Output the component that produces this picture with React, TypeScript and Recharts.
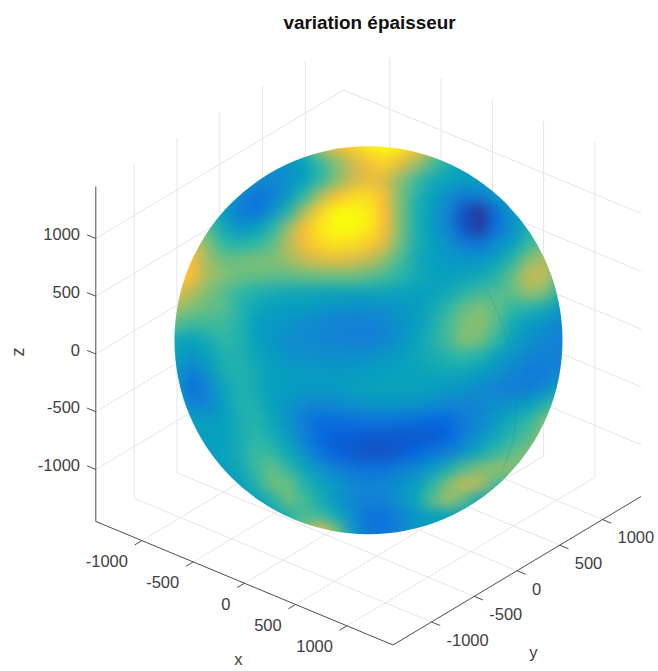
import React from 'react';
import { ScatterChart, Scatter, XAxis, YAxis } from 'recharts';

const W = 658;
const H = 671;
const titleText = 'variation épaisseur';
const xTicks = [-1000, -500, 0, 500, 1000];
const yTicks = [-1000, -500, 0, 500, 1000];
const zTicks = [-1000, -500, 0, 500, 1000];
const LIM = 1450;
const TICK_LEN = 85;
const seamLatitudes = [-25, -18, -10, 0, 10, 20, 28, 38];

// thickness variation on the visible face of the sphere, rows top to bottom
const field = [
  [3,3,3,3,3,3,3,3,4,5.5,6.6,7.2,7.7,8,7.7,7,5.5,4,3.5,3,3,3,3,3,3],
  [3,3,3,3,3,3,2.5,2.5,3,4,5,6,6.9,7.3,6.6,5.5,4.4,3.6,3,3,3,3,3,3,3],
  [3,3,3,3,3,2.4,2.1,2.5,3,4,5,6.1,6.6,6.4,5.2,4.2,3.4,3.1,3,3,3,3,3,3,3],
  [3,3,3,3,2.2,1.5,1.9,2.8,4,5.7,7,7.4,7.5,6.9,5,3.8,3,2.4,1.8,1.9,2.8,3,3,3,3],
  [3.5,3.5,3.5,3,1.8,1.6,2.6,3.8,5.7,7.3,8,8,7.8,7,5,3.6,2.9,2.1,0.6,0.2,1.4,2.7,3.2,3.5,3.5],
  [5,5,4.5,3.3,2.6,3,3.8,5.4,7,7.7,8,8,7.8,7,5,3.6,2.9,2.1,0.7,0.3,1.4,2.5,3.5,4,4],
  [6.8,6.8,5,4,3.8,4,4.6,5.8,6.9,7.4,7.6,7.5,7.2,6.5,4.8,3.6,3,2.6,1.9,1.7,2.4,3,4,4.9,5],
  [7.2,6.8,5.5,4.8,4.8,5,5,5.5,6,6.4,6.6,6.4,6,5.2,4.3,3.4,3,2.8,2.7,2.7,3.1,3.9,5.1,5.7,5],
  [7.2,7,5.5,5.1,4.8,4.7,4.6,4.6,4.7,4.8,4.8,4.8,4.6,4.3,3.9,3.4,3.1,3,3.1,3.3,3.8,4.7,6,6.1,4.5],
  [6.5,5.8,5,4.5,4,3.7,3.5,3.3,3.3,3.2,3.2,3.2,3.2,3.2,3.1,3,3.1,3.3,3.8,4.2,4.4,4.7,5.4,5.1,3.8],
  [5.5,5,4.7,4.5,3.8,3.2,3,2.9,2.9,2.7,2.5,2.4,2.4,2.5,2.7,2.9,3.3,4,4.7,5,4.7,4,3.8,3.4,2.8],
  [4.5,4.2,4.2,4.2,3.7,3,2.8,2.6,2.3,2.2,2.1,2,2,2.2,2.5,2.9,3.5,4.3,5,5.2,4.5,3.4,2.8,2.5,2.2],
  [3.3,3,3.5,4,3.7,3,2.7,2.4,2.3,2.2,2.1,2,2,2.2,2.6,3.1,3.7,4.3,5.1,4.9,4,3.1,2.6,2.2,2],
  [3,2.7,3,3.7,3.7,3.2,2.9,2.6,2.5,2.5,2.4,2.4,2.5,2.7,2.9,3.2,3.5,3.8,4,3.7,3.1,2.6,2.2,2,2],
  [2.8,1.8,2.7,3.5,3.7,3.4,3,2.9,2.8,2.8,2.8,2.8,2.9,3,3.1,3.1,3.2,3.3,3.2,2.9,2.6,2.2,1.8,1.8,2.2],
  [2.8,1.4,2.1,3.2,3.7,3.4,3,2.9,2.8,2.8,2.8,3,3.1,3.1,3.1,3.1,3,2.8,2.6,2.3,2.1,1.9,1.9,2.2,3],
  [3,2,2.2,3,3.7,3.6,3,2.7,2.3,2.2,2.3,2.5,2.7,2.7,2.7,2.6,2.4,2.2,2.1,2.2,2.4,2.6,2.9,3.6,4.5],
  [3,3,2.8,3,3.5,3.8,3.2,2.6,1.8,1.3,1.4,1.5,1.6,1.6,1.5,1.4,1.2,1.2,1.8,2.2,2.8,3.4,3.9,4.8,5.5],
  [3,3,3,3,3.5,3.9,3.5,2.9,2,1.1,0.9,0.9,0.8,0.8,0.8,0.8,0.8,1,1.9,2.6,3.3,3.9,4.4,5.5,5.5],
  [3,3,3,3.1,3.5,4.2,4,3.2,2.5,1.5,0.9,0.8,0.7,0.7,0.8,1,1.5,1.9,2.6,3.3,4,4.6,5,5,5],
  [3,3,3,3,3.3,4.2,4.7,4,3.2,2.6,2,1.6,1.4,1.5,1.8,2.2,2.8,3.5,4.4,5,5.3,5.2,5,5,5],
  [3,3,3,3,3,3.8,4.8,4.8,3.8,3.2,2.7,2.3,2.1,2.2,2.5,3,3.8,5,6.1,5.8,4.4,4,4,4,4],
  [3,3,3,3,3,3,3.7,4.8,4.3,3.4,2.8,2.2,2,2.1,2.6,3.2,4.6,5.5,4.5,3.2,3,3,3,3,3],
  [3,3,3,3,3,3,3,3.7,4.4,4.2,3.4,2.4,1.6,1.5,2,2.7,3,3,3,3,3,3,3,3,3],
  [3,3,3,3,3,3,3,4,5,7,5,2.8,1.7,1.5,2.2,2.8,3,3,3,3,3,3,3,3,3],
];

const parula = [
  [53, 42, 135], [3, 102, 225], [20, 128, 214], [6, 160, 190], [45, 184, 165],
  [125, 191, 118], [196, 186, 85], [253, 188, 55], [249, 251, 14],
];

const colorOf = (v: number) => {
  const i = Math.min(7, Math.floor(v));
  const f = v - i;
  const c = parula[i].map((a, k) => Math.round(a + (parula[i + 1][k] - a) * f));
  return `rgb(${c[0]},${c[1]},${c[2]})`;
};

// orthographic view of the 3D axes on the page
const project = (x: number, y: number, z: number) => ({
  px: 368.4 + 0.1025 * x + 0.0855 * y,
  py: 341.5 + 0.0426 * x - 0.0512 * y - 0.1155 * z,
});

const seg = (a: number[], b: number[]) => [project(a[0], a[1], a[2]), project(b[0], b[1], b[2])];

const gridSegs = [
  ...xTicks.map((t) => seg([t, -LIM, -LIM], [t, LIM, -LIM])),
  ...yTicks.map((t) => seg([-LIM, t, -LIM], [LIM, t, -LIM])),
  ...yTicks.map((t) => seg([-LIM, t, -LIM], [-LIM, t, LIM])),
  ...xTicks.map((t) => seg([t, LIM, -LIM], [t, LIM, LIM])),
  ...zTicks.map((t) => seg([-LIM, -LIM, t], [-LIM, LIM, t])),
  ...zTicks.map((t) => seg([-LIM, LIM, t], [LIM, LIM, t])),
];

const axisSegs = [
  seg([-LIM, -LIM, -LIM], [-LIM, -LIM, LIM]),
  seg([-LIM, -LIM, -LIM], [LIM, -LIM, -LIM]),
  seg([LIM, -LIM, -LIM], [LIM, LIM, -LIM]),
  ...xTicks.map((t) => seg([t, -LIM, -LIM], [t, -LIM - TICK_LEN, -LIM])),
  ...yTicks.map((t) => seg([LIM, t, -LIM], [LIM + TICK_LEN, t, -LIM])),
  ...zTicks.map((t) => seg([-LIM, -LIM, t], [-LIM - TICK_LEN, -LIM, t])),
];

const CELL = 16;
const cells = field.flatMap((row, r) =>
  row.map((v, c) => ({ px: 176 + c * CELL, py: 148 + r * CELL, v, r, c })),
);

const seam = seamLatitudes.map((d) => {
  const a = (d * Math.PI) / 180;
  return project(LIM * Math.cos(a), 0, LIM * Math.sin(a));
});

const FONT = '"Liberation Sans", Arial, sans-serif';
const TEXT = '#404040';

const labels = [
  ...xTicks.map((t) => {
    const p = project(t, -LIM, -LIM);
    return { px: p.px - 14, py: p.py + 20.5, text: String(t), anchor: 'end' };
  }),
  ...yTicks.map((t) => {
    const p = project(LIM, t, -LIM);
    return { px: p.px + 15, py: p.py + 18, text: String(t), anchor: 'start' };
  }),
  ...zTicks.map((t) => {
    const p = project(-LIM, -LIM, t);
    return { px: 80, py: p.py - 4.3, text: String(t), anchor: 'end' };
  }),
  { px: 238.3, py: 659, text: 'x', anchor: 'middle' },
  { px: 533.3, py: 652, text: 'y', anchor: 'middle' },
];

const zLabel = [{ px: 19, py: 352, text: 'z' }];
const titlePoint = [{ px: 369.5, py: 22, text: titleText }];

const NoMark = () => null;

const CellShape = (p: any) => {
  const { cx, cy, payload } = p;
  const pad = 40;
  const x0 = cx - CELL / 2 - (payload.c === 0 ? pad : 0);
  const x1 = cx + CELL / 2 + 0.5 + (payload.c === 24 ? pad : 0);
  const y0 = cy - CELL / 2 - (payload.r === 0 ? pad : 0);
  const y1 = cy + CELL / 2 + 0.5 + (payload.r === 24 ? pad : 0);
  return <rect x={x0} y={y0} width={x1 - x0} height={y1 - y0} fill={colorOf(payload.v)} />;
};

const LabelShape = (p: any) => (
  <text x={p.cx} y={p.cy} dy="0.36em" textAnchor={p.payload.anchor} fontFamily={FONT} fontSize={16.5} fill={TEXT}>
    {p.payload.text}
  </text>
);

const ZShape = (p: any) => (
  <text
    x={p.cx}
    y={p.cy}
    dy="0.3em"
    textAnchor="middle"
    fontFamily={FONT}
    fontSize={18}
    fill={TEXT}
    transform={`rotate(-90 ${p.cx} ${p.cy})`}
  >
    {p.payload.text}
  </text>
);

const TitleShape = (p: any) => (
  <text x={p.cx} y={p.cy} dy="0.36em" textAnchor="middle" fontFamily={FONT} fontSize={18.9} fontWeight={700} fill="#111">
    {p.payload.text}
  </text>
);

export default function App() {
  return (
    <div style={{ position: 'absolute', left: 0, top: 0, width: W, height: H, background: '#fff' }}>
      <style>{`.sphere-field{filter:url(#sphere-blur);clip-path:url(#sphere-clip);}
.sphere-seam{clip-path:url(#sphere-clip);}`}</style>
      <svg width={0} height={0} style={{ position: 'absolute' }}>
        <defs>
          <filter id="sphere-blur" filterUnits="userSpaceOnUse" x={0} y={0} width={W} height={H} colorInterpolationFilters="sRGB">
            <feGaussianBlur stdDeviation={6.5} />
          </filter>
          <clipPath id="sphere-clip" clipPathUnits="userSpaceOnUse">
            <circle cx={368.5} cy={340.3} r={194} />
          </clipPath>
        </defs>
      </svg>
      <ScatterChart width={W} height={H} margin={{ top: 0, right: 0, bottom: 0, left: 0 }}>
        <XAxis type="number" dataKey="px" domain={[0, W]} hide />
        <YAxis type="number" dataKey="py" domain={[0, H]} reversed hide />
        {gridSegs.map((s, i) => (
          <Scatter key={`g${i}`} data={s} line={{ stroke: '#e4e4e4', strokeWidth: 1 }} shape={NoMark} isAnimationActive={false} />
        ))}
        <Scatter className="sphere-field" data={cells} shape={CellShape} isAnimationActive={false} />
        <Scatter className="sphere-seam" data={seam} line={{ stroke: '#1480d6', strokeWidth: 1, strokeOpacity: 0.25 }} shape={NoMark} isAnimationActive={false} />
        {axisSegs.map((s, i) => (
          <Scatter key={`a${i}`} data={s} line={{ stroke: '#4d4d4d', strokeWidth: 1 }} shape={NoMark} isAnimationActive={false} />
        ))}
        <Scatter data={labels} shape={LabelShape} isAnimationActive={false} />
        <Scatter data={zLabel} shape={ZShape} isAnimationActive={false} />
        <Scatter data={titlePoint} shape={TitleShape} isAnimationActive={false} />
      </ScatterChart>
    </div>
  );
}
